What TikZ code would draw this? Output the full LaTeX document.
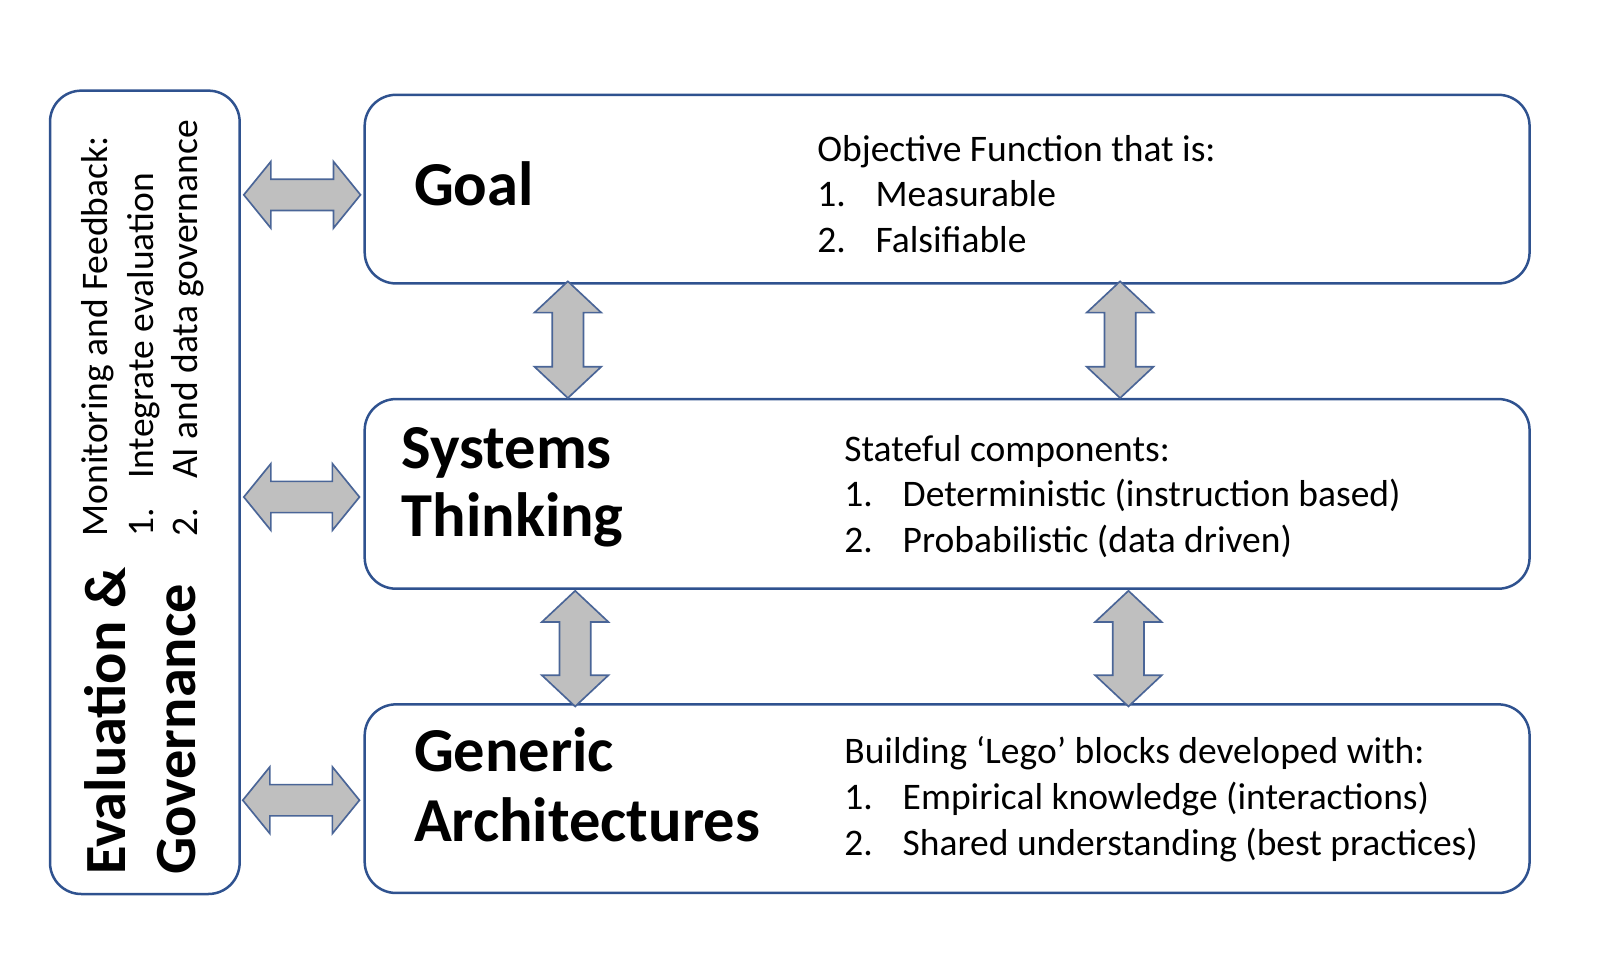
\documentclass[tikz,border=0pt]{standalone}
\usepackage{fontspec}
\setmainfont{Carlito}
\newfontfamily\leftfont{Carlito}
\definecolor{bl}{HTML}{2F528F}
\definecolor{ar}{HTML}{4A6597}
\definecolor{gf}{HTML}{BFBFBF}
\tikzset{
 box/.style={draw=bl,line width=1.2pt,rounded corners=15pt},
 arw/.style={draw=ar,fill=gf,line width=0.8pt,line join=miter},
 ttl/.style={anchor=base west,inner sep=0pt,font=\fontsize{30}{36}\selectfont\bfseries},
 txt/.style={anchor=base west,inner sep=0pt,font=\fontsize{18}{22}\selectfont},
 vtxt/.style={anchor=base west,inner sep=0pt,rotate=90,font=\fontsize{18}{22}\selectfont},
 vttl/.style={anchor=base west,inner sep=0pt,rotate=90,font=\fontsize{28}{34}\selectfont\bfseries}
}
\newcommand\harr[3]{\draw[arw] (#1,#3)--(#1+26,#3-32)--(#1+26,#3-15)--(#2-26,#3-15)--(#2-26,#3-32)--(#2,#3)--(#2-26,#3+32)--(#2-26,#3+15)--(#1+26,#3+15)--(#1+26,#3+32)--cycle;}
\newcommand\varr[3]{\draw[arw] (#3,#1)--(#3+32,#1+30)--(#3+15,#1+30)--(#3+15,#2-30)--(#3+32,#2-30)--(#3,#2)--(#3-32,#2-30)--(#3-15,#2-30)--(#3-15,#1+30)--(#3-32,#1+30)--cycle;}
\begin{document}
\begin{tikzpicture}[x=0.5pt,y=-0.5pt]
\useasboundingbox (0,0) rectangle (1550,933);
\draw[box] (48,87) rectangle (230,858);
\draw[box] (350,91) rectangle (1468,272);
\draw[box] (350,383) rectangle (1468,565);
\draw[box] (350,676) rectangle (1468,857);
\harr{234}{346}{187}
\harr{234}{345}{477}
\harr{233}{345}{768}
\varr{270}{382}{545}
\varr{270}{382}{1075}
\varr{567}{678}{552}
\varr{567}{678}{1083}
% left
\node[vttl] (ev) at (120,840) {Evaluation \&};
\node[vttl] (gov) at (188,840) {Governance};
\node[vtxt] (mon) at (103,515) {Monitoring and Feedback:};
\node[vtxt] (m1n) at (147,515) {1.};
\node[vtxt] (m1) at (147,460) {Integrate evaluation};
\node[vtxt] (m2n) at (190,515) {2.};
\node[vtxt] (m2) at (190,460) {AI and data governance};
% goal
\node[ttl] (goal) at (397,197) {Goal};
\node[txt] (g0) at (784,155) {Objective Function that is:};
\node[txt] (g1n) at (784,198) {1.};
\node[txt] (g1) at (840,198) {Measurable};
\node[txt] (g2n) at (784,242) {2.};
\node[txt] (g2) at (840,242) {Falsifiable};
% systems
\node[ttl] (sys1) at (385,450) {Systems};
\node[ttl] (sys2) at (385,515) {Thinking};
\node[txt] (s0) at (810,443) {Stateful components:};
\node[txt] (s1n) at (810,486) {1.};
\node[txt] (s1) at (866,486) {Deterministic (instruction based)};
\node[txt] (s2n) at (810,530) {2.};
\node[txt] (s2) at (866,530) {Probabilistic (data driven)};
% generic
\node[ttl] (gen1) at (397,740) {Generic};
\node[ttl] (gen2) at (397,808) {Architectures};
\node[txt] (a0) at (810,733) {Building ‘Lego’ blocks developed with:};
\node[txt] (a1n) at (810,777) {1.};
\node[txt] (a1) at (866,777) {Empirical knowledge (interactions)};
\node[txt] (a2n) at (810,821) {2.};
\node[txt] (a2) at (866,821) {Shared understanding (best practices)};
\end{tikzpicture}
\end{document}
